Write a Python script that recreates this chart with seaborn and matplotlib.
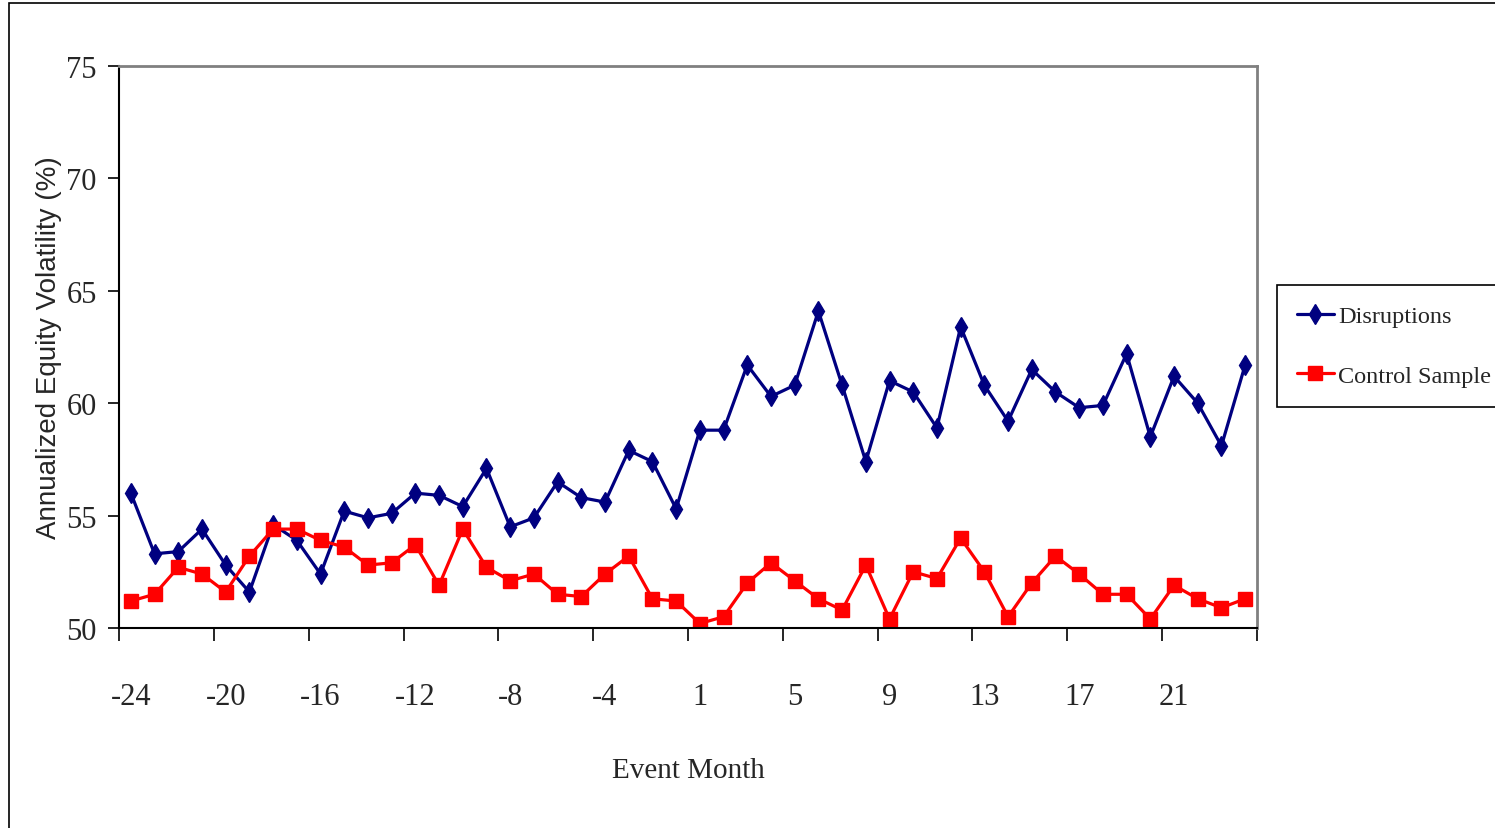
import numpy as np
import matplotlib
matplotlib.use("Agg")
import matplotlib.pyplot as plt
import seaborn as sns
from matplotlib.patches import Rectangle

# event months (month 0 is not in the data)
months = [-24, -23, -22, -21, -20, -19, -18, -17, -16, -15, -14, -13,
          -12, -11, -10, -9, -8, -7, -6, -5, -4, -3, -2, -1,
          1, 2, 3, 4, 5, 6, 7, 8, 9, 10, 11, 12,
          13, 14, 15, 16, 17, 18, 19, 20, 21, 22, 23, 24]

# annualized equity volatility (%)
disruptions = [56.0, 53.3, 53.4, 54.4, 52.8, 51.6, 54.6, 53.9, 52.4, 55.2, 54.9, 55.1,
               56.0, 55.9, 55.4, 57.1, 54.5, 54.9, 56.5, 55.8, 55.6, 57.9, 57.4, 55.3,
               58.8, 58.8, 61.7, 60.3, 60.8, 64.1, 60.8, 57.4, 61.0, 60.5, 58.9, 63.4,
               60.8, 59.2, 61.5, 60.5, 59.8, 59.9, 62.2, 58.5, 61.2, 60.0, 58.1, 61.7]
control = [51.2, 51.5, 52.7, 52.4, 51.6, 53.2, 54.4, 54.4, 53.9, 53.6, 52.8, 52.9,
           53.7, 51.9, 54.4, 52.7, 52.1, 52.4, 51.5, 51.4, 52.4, 53.2, 51.3, 51.2,
           50.2, 50.5, 52.0, 52.9, 52.1, 51.3, 50.8, 52.8, 50.4, 52.5, 52.2, 54.0,
           52.5, 50.5, 52.0, 53.2, 52.4, 51.5, 51.5, 50.4, 51.9, 51.3, 50.9, 51.3]

sns.set_style("white")
plt.rcParams["font.family"] = ["Liberation Serif", "DejaVu Serif"]

fig = plt.figure(figsize=(14.95, 8.29), dpi=100)
ax = fig.add_axes([119 / 1495, 200 / 829, 1138 / 1495, 562 / 829])

pos = np.arange(len(months))
sns.lineplot(x=pos, y=disruptions, ax=ax, color="#000080", marker="d", markersize=10.5,
             markeredgecolor="#000080", markeredgewidth=1, linewidth=2.3,
             label="Disruptions", sort=False)
sns.lineplot(x=pos, y=control, ax=ax, color="#FF0000", marker="s", markersize=10,
             markeredgecolor="#FF0000", markeredgewidth=1, linewidth=2.3,
             label="Control Sample", sort=False)

ax.set_xlim(-0.5, len(months) - 0.5)
ax.set_ylim(50, 75)
ax.set_yticks([50, 55, 60, 65, 70, 75])

# labels every 4th month, tick marks on category boundaries
ax.set_xticks(pos[::4], [str(m) for m in months[::4]])
ax.set_xticks(np.arange(-0.5, len(months), 4), minor=True)
ax.tick_params(axis="x", which="major", length=0, pad=39, labelsize=22)
ax.tick_params(axis="x", which="minor", length=9, width=1.2, direction="out",
               color="black", bottom=True)
ax.tick_params(axis="y", length=8, width=1.2, direction="out", color="black",
               left=True, pad=8, labelsize=22)

for side in ["left", "bottom"]:
    ax.spines[side].set_color("black")
    ax.spines[side].set_linewidth(1.5)
for side in ["top", "right"]:
    ax.spines[side].set_color("#808080")
    ax.spines[side].set_linewidth(2)

ax.set_xlabel("Event Month", fontsize=21, labelpad=33)
ax.set_ylabel("Annualized Equity Volatility (%)", fontsize=20,
              family=["Liberation Sans", "DejaVu Sans"])
ax.yaxis.set_label_coords(-0.05, 0.5)

leg = ax.legend(loc="upper left", bbox_to_anchor=(1277 / 1495, 1 - 286 / 829),
                bbox_transform=fig.transFigure, fontsize=17.5, frameon=True,
                fancybox=False, framealpha=1, edgecolor="black", borderaxespad=0,
                handlelength=1.5, handletextpad=0.2, labelspacing=1.54, borderpad=0.83)
leg.get_frame().set_linewidth(1.2)

# outer chart border
fig.add_artist(Rectangle((9 / 1495, -0.01), 1.2, 1 - 4 / 829 + 0.01,
                         transform=fig.transFigure, fill=False,
                         edgecolor="black", linewidth=1.2))

fig.savefig("out.png", dpi=100)
